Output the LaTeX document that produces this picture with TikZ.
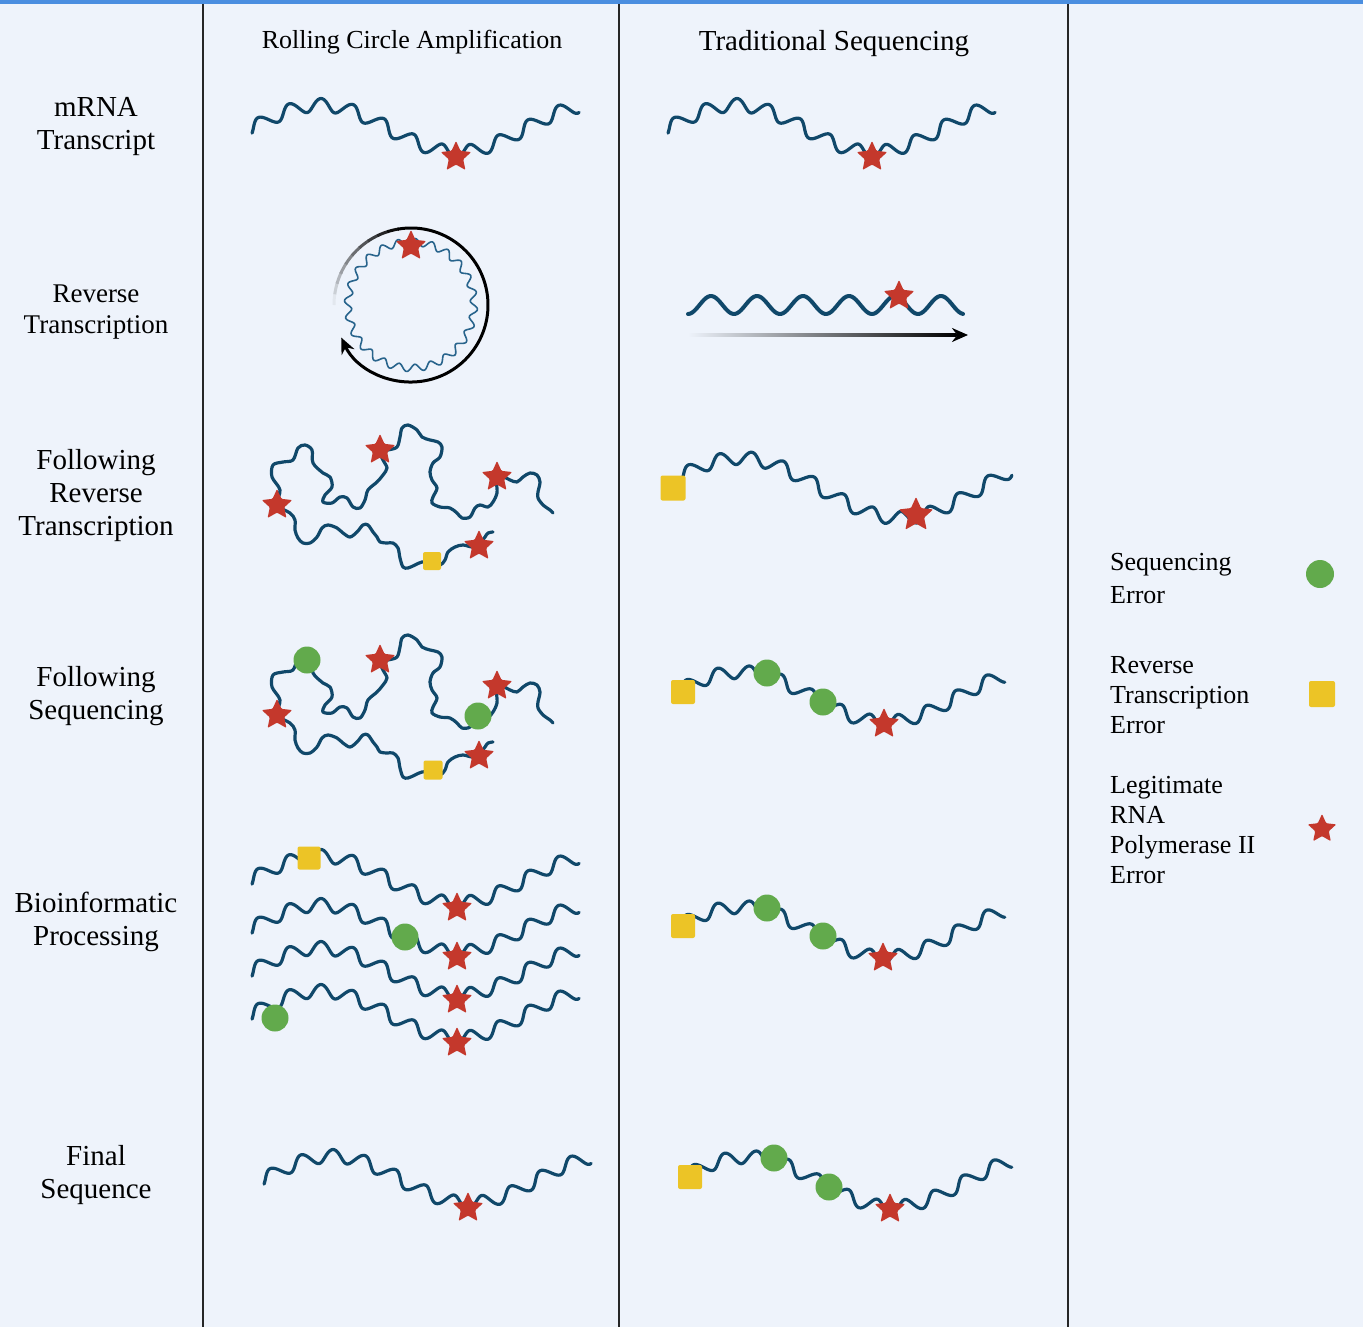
\documentclass[tikz,border=0pt]{standalone}
\usepackage{fontspec}
\setmainfont{Liberation Serif}
\usetikzlibrary{shapes.geometric}
\usetikzlibrary{arrows.meta}
\usetikzlibrary{calc}
\definecolor{bgblue}{RGB}{238,243,251}
\definecolor{topblue}{RGB}{74,142,224}
\definecolor{dna}{RGB}{16,72,106}
\definecolor{dnalight}{RGB}{40,100,140}
\definecolor{polred}{RGB}{196,56,44}
\definecolor{seqgreen}{RGB}{98,170,76}
\definecolor{rtyellow}{RGB}{236,196,38}
\tikzset{
  declare function={
    wb(\xa,\xc,\xh,\xp,\xm)=\xm-\xh*cos((\xa-\xc)/\xp*360);% ligne moyenne
    ws(\xa,\xc,\xh,\xp)=\xh*2*pi/\xp*sin((\xa-\xc)/\xp*360);% pente
    wx(\xa,\xc,\xh,\xp,\xf,\xl)=\xa-6.5*sin((\xa-\xf)/\xl*360)*ws(\xa,\xc,\xh,\xp)/sqrt(1+ws(\xa,\xc,\xh,\xp)^2);
    wy(\xa,\xc,\xh,\xp,\xm,\xf,\xl)=wb(\xa,\xc,\xh,\xp,\xm)+6.5*sin((\xa-\xf)/\xl*360)/sqrt(1+ws(\xa,\xc,\xh,\xp)^2);
  },
  strand/.style = {draw=dna, line width=3.2, line cap=round, line join=round},% brin d'ARN
  marker/.style = {inner sep=0pt, outer sep=0pt, draw=none},
  star_err/.style = {marker, star, star points=5, star point ratio=2.1,
    fill=polred, minimum size=32, rounded corners=1},% erreur ARN pol II
  seq_err/.style = {marker, circle, fill=seqgreen, minimum size=27},% erreur de sequencage
  rt_err/.style = {marker, rectangle, fill=rtyellow, minimum size=24,
    rounded corners=2},% erreur de transcription inverse
  rowlabel/.style = {align=center, font=\fontsize{29}{33}\selectfont},
  header/.style = {font=\fontsize{26}{33}\selectfont},
  legend/.style = {align=left, anchor=west, inner sep=0pt, font=\fontsize{26}{30}\selectfont},
  divider/.style = {draw=black!85, line width=2.6},
  mrna/.pic = {\draw[strand] plot[domain=250:578, samples=260, variable=\t]
      ({wx(\t,320,23.5,274,448.5,30)}, {wy(\t,320,23.5,274,128.5,448.5,30)});},
  trad_a/.pic = {\draw[strand] plot[domain=665:1010, samples=270, variable=\t]
      ({wx(\t,740,30,320,908.5,30)}, {wy(\t,740,30,320,488,908.5,30)});},
  trad_b/.pic = {\draw[strand] plot[domain=674:1003, samples=260, variable=\t]
      ({wx(\t,740,25,290,876.5,30)}, {wy(\t,740,25,290,697,876.5,30)});},
  loopy/.pic = {\draw[strand] plot[smooth, tension=0.55] coordinates {(493,532)
      (488,533) (485,537) (480,543) (473,547) (463,545) (455,547) (448,552)
      (445,560) (440,565) (432,562) (422,562) (415,565) (408,568) (403,567)
      (400,558) (398,548) (393,543) (387,543) (380,542) (377,537) (373,532)
      (368,525) (363,525) (357,532) (350,537) (343,533) (337,528) (328,525)
      (322,528) (317,537) (310,543) (303,543) (298,538) (295,530) (295,520)
      (290,513) (277,505) (280,490) (272,477) (273,465) (283,462) (293,460)
      (298,448) (305,445) (312,450) (313,463) (323,473) (330,477) (332,487)
      (325,495) (323,502) (332,503) (340,497) (347,498) (353,507) (360,508)
      (365,500) (368,490) (377,482) (383,475) (387,468) (383,460) (380,452)
      (388,450) (397,447) (400,437) (402,428) (408,425) (417,430) (422,437)
      (430,440) (438,442) (442,447) (440,457) (433,463) (430,472) (432,480)
      (437,488) (433,497) (432,503) (440,507) (450,508) (457,513) (462,518)
      (470,517) (475,508) (480,505) (488,507) (493,502) (497,493) (497,482)
      (503,477) (510,480) (517,482) (523,477) (530,473) (537,475) (540,482)
      (538,492) (538,498) (543,505) (550,510) (553,513)};}
}
\begin{document}
\begin{tikzpicture}[x=1pt, y=-1pt]
  \useasboundingbox (0,0) rectangle (1363,1327);
  \fill[bgblue] (0,0) rectangle (1363,1327);
  \fill[topblue] (0,0) rectangle (1363,4);
  \draw[divider] (203,4) -- (203,1327);
  \draw[divider] (619,4) -- (619,1327);
  \draw[divider] (1068,4) -- (1068,1327);

  % titres
  \node[header] (hrca) at (412,42) {Rolling Circle Amplification};
  \node[header, font=\fontsize{29}{33}\selectfont] (htrad) at (834,44) {Traditional Sequencing};

  \node[rowlabel] (l1) at (96,127) {mRNA\\Transcript};
  \node[rowlabel, font=\fontsize{27}{31}\selectfont] (l2) at (96,312) {Reverse\\Transcription};
  \node[rowlabel] (l3) at (96,496) {Following\\Reverse\\Transcription};
  \node[rowlabel] (l4) at (96,696) {Following\\Sequencing};
  \node[rowlabel] (l5) at (96,922) {Bioinformatic\\Processing};
  \node[rowlabel] (l6) at (96,1175) {Final\\Sequence};

  % ligne 1
  \pic at (0,0) {mrna};
  \pic at (416,0) {mrna};
  \node[star_err] (s1a) at (456,157) {};
  \node[star_err] (s1b) at (872,157) {};

  % ligne 2 : cercle roulant
  \coordinate (rc) at (411,305);
  \draw[dnalight, line width=1.6] plot[domain=0:360, samples=360, variable=\t]
    ({411+(63+3.6*sin(24*\t))*cos(\t)}, {305+(63+3.6*sin(24*\t))*sin(\t)}) -- cycle;
  \foreach \a in {180,188,...,252} {
    \pgfmathsetmacro\shadepct{min(100,(\a-176)*1.25)}
    \draw[line width=3, black!\shadepct!bgblue] ($(rc)+(\a:77)$) arc[start angle=\a, end angle=\a+9, radius=77];
  }
  \draw[line width=3, black, -{Stealth[length=16, width=14]}] ($(rc)+(260:77)$)
    arc[start angle=260, end angle=515, radius=77];
  \node[star_err] (s2a) at (411,246) {};

  \draw[strand, line width=4] plot[domain=0:275, samples=140, variable=\t]
    ({688+\t}, {305+9*cos(\t/46*360)});
  \coordinate (rtA) at (688,335);
  \coordinate (rtB) at (968,335);
  \shade[left color=bgblue, right color=black] ($(rtA)+(0,-1.2)$) rectangle ($(rtB)+(-12,1.2)$);
  \draw[line width=2.4, -{Stealth[length=16, width=14]}] ($(rtB)+(-14,0)$) -- (rtB);
  \node[star_err] (s2b) at (899,296) {};

  % ligne 3
  \pic at (0,0) {loopy};
  \node[star_err] (s3a) at (380,450) {};
  \node[star_err] (s3b) at (497,477) {};
  \node[star_err] (s3c) at (277,505) {};
  \node[star_err] (s3d) at (479,546) {};
  \node[rt_err, minimum size=18] (r3a) at (432,561) {};
  \pic at (0,0) {trad_a};
  \node[rt_err, minimum size=25] (r3b) at (673,488) {};
  \node[star_err, minimum size=36] (s3e) at (916,515) {};

  % ligne 4
  \pic at (0,210) {loopy};
  \node[seq_err] (g4a) at (307,660) {};
  \node[seq_err] (g4b) at (478,716) {};
  \node[star_err] (s4a) at (380,660) {};
  \node[star_err] (s4b) at (497,686) {};
  \node[star_err] (s4c) at (277,715) {};
  \node[star_err] (s4d) at (479,756) {};
  \node[rt_err, minimum size=19] (r4a) at (433,770) {};
  \pic at (0,0) {trad_b};
  \node[rt_err] (r4b) at (683,692) {};
  \node[seq_err] (g4c) at (767,673) {};
  \node[seq_err] (g4d) at (823,702) {};
  \node[star_err] (s4e) at (884,724) {};

  % ligne 5
  \foreach \dy in {751,800,843,886}
    \pic at (0,\dy) {mrna};
  \node[rt_err, minimum size=23] (r5a) at (309,858) {};
  \node[star_err] (s5a) at (457,908) {};
  \node[seq_err] (g5a) at (405,937) {};
  \node[star_err] (s5b) at (457,957) {};
  \node[star_err] (s5c) at (457,1000) {};
  \node[seq_err] (g5b) at (275,1018) {};
  \node[star_err] (s5d) at (457,1043) {};
  \pic at (0,235) {trad_b};
  \node[rt_err] (r5b) at (683,926) {};
  \node[seq_err] (g5c) at (767,908) {};
  \node[seq_err] (g5d) at (823,936) {};
  \node[star_err] (s5e) at (883,958) {};

  % ligne 6
  \pic at (12,1051) {mrna};
  \node[star_err] (s6a) at (468,1208) {};
  \pic at (7,485) {trad_b};
  \node[rt_err] (r6b) at (690,1177) {};
  \node[seq_err] (g6c) at (774,1158) {};
  \node[seq_err] (g6d) at (829,1187) {};
  \node[star_err] (s6e) at (890,1209) {};

  % legende
  \node[legend] (leg1) at (1110,579) {Sequencing\\[3pt]Error};
  \node[seq_err, minimum size=28] (kg) at (1320,574) {};
  \node[legend] (leg2) at (1110,695) {Reverse\\Transcription\\Error};
  \node[rt_err, minimum size=26] (kr) at (1322,694) {};
  \node[legend] (leg3) at (1110,830) {Legitimate\\RNA\\Polymerase II\\Error};
  \node[star_err, minimum size=30] (ks) at (1322,829) {};
\end{tikzpicture}
\end{document}
